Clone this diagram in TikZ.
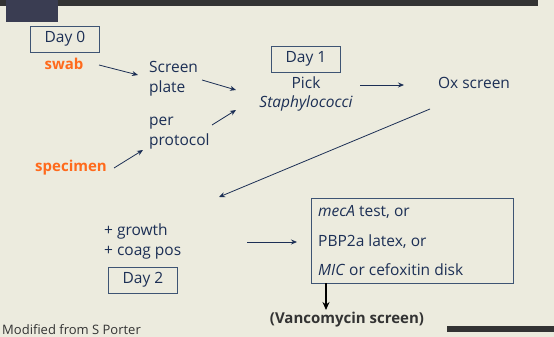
\documentclass[tikz,border=0pt]{standalone}
\usepackage{fontspec}
\setmainfont{Open Sans}
\usetikzlibrary{arrows.meta}
\definecolor{bg}{HTML}{ECEBDE}
\definecolor{navy}{HTML}{1C2F55}
\definecolor{boxc}{HTML}{3E5473}
\definecolor{orng}{HTML}{FF6A1C}
\definecolor{dark}{HTML}{333333}
\definecolor{patch}{HTML}{3A3D52}
\tikzset{
  txt/.style={text=navy, font=\fontsize{15.5}{20}\selectfont, inner sep=0pt, align=center},
  orn/.style={text=orng, font=\fontsize{15}{20}\selectfont\bfseries, inner sep=0pt},
  daybox/.style={draw=boxc, line width=0.9pt, minimum width=69pt, minimum height=26pt, txt},
  arr/.style={-{Stealth[length=6pt,width=5pt]}, navy, line width=0.8pt},
}
\begin{document}
\begin{tikzpicture}[x=1pt,y=-1pt]
\fill[bg] (0,0) rectangle (554,337);
\useasboundingbox (0,0) rectangle (554,337);
\fill[dark] (0,0) rectangle (538,6);
\fill[patch] (6,0) rectangle (58,22);
\fill[dark] (447,326) rectangle (554,332);
% Day 0
\node[daybox] (d0) at (65,39) {Day 0};
\node[orn] (swab) at (64,64) {swab};
\node[txt, align=left, anchor=west] (sp) at (149,79) {Screen\\plate};
\node[txt, align=left, anchor=west] (pp) at (149,133) {per\\protocol};
\node[orn] (spec) at (71,168) {specimen};
\draw[arr] (99,65) -- (138,75);
\draw[arr] (114,168) -- (143,150);
\draw[arr] (202,80) -- (236,90);
\draw[arr] (212,125) -- (236,110);
% Day 1
\node[daybox] (d1) at (306,59) {Day 1};
\node[txt] (pick) at (306,83) {Pick};
\node[txt, font=\fontsize{15.5}{20}\selectfont\itshape] (staph) at (306,103) {Staphylococci};
\node[txt] (ox) at (474,83) {Ox screen};
\draw[arr] (360,85) -- (404,85);
\draw[arr] (430,109) -- (219,197);
% Day 2
\node[txt, align=left, anchor=west] (gr) at (104,241) {+ growth\\+ coag pos};
\node[daybox] (d2) at (143,280) {Day 2};
\draw[arr] (247,242) -- (297,242);
\node[draw=boxc, line width=0.9pt, minimum width=202pt, minimum height=85pt, inner sep=0pt] (tb) at (412,240.5) {};
\node[txt, anchor=west] (t1) at (318,212) {\textit{mecA} test, or};
\node[txt, anchor=west] (t2) at (318,242) {PBP2a latex, or};
\node[txt, anchor=west] (t3) at (318,270) {\textit{MIC} or cefoxitin disk};
\coordinate (vt) at (326,310);
\draw[-{Stealth[length=8pt,width=7pt]}, black, line width=1.5pt] (tb.south west -| vt) -- (vt);
\node[text=dark, font=\fontsize{15}{20}\selectfont\bfseries, inner sep=0pt] (van) at (347,320) {(Vancomycin screen)};
\node[text=dark, font=\fontsize{13}{16}\selectfont, inner sep=0pt, anchor=south west] (mod) at (2,335) {Modified from S Porter};
\end{tikzpicture}
\end{document}
